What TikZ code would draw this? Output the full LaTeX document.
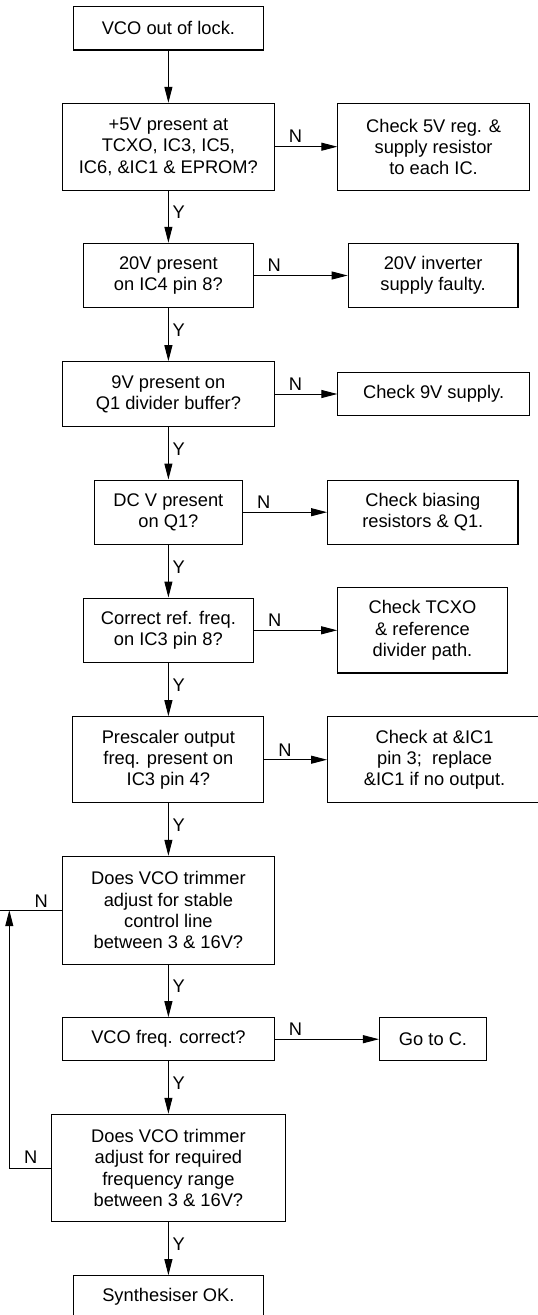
\documentclass[tikz,border=0pt]{standalone}
\usepackage{fontspec}
\setmainfont{Liberation Sans}
\usetikzlibrary{arrows.meta}
\tikzset{
  box/.style={draw=black, line width=1.1pt, align=center, inner sep=0pt,
    font=\fontsize{18.3}{21.2}\selectfont},
  arr/.style={draw=black, line width=1pt, -{Triangle[length=16pt,width=8pt]}},
  ln/.style={draw=black, line width=1pt},
  lab/.style={inner sep=0pt, font=\fontsize{18.3}{21.2}\selectfont},
  ylab/.style={lab, anchor=west},
  nlab/.style={lab, anchor=center}
}
\begin{document}
\begin{tikzpicture}[x=1pt,y=-1pt]
\useasboundingbox (0,0) rectangle (538,1315);
\clip (0,0) rectangle (538,1315);
\fill[white] (0,0) rectangle (538,1315);

% main column
\node[box, minimum width=190pt, minimum height=43.3pt] (b1) at (168.4,28.3) {VCO out of lock.};
\node[box, minimum width=212pt, minimum height=86.7pt] (b2) at (168.4,146.7) {+5V present at\\TCXO, IC3, IC5,\\IC6, \&IC1 \& EPROM?};
\node[box, minimum width=169.5pt, minimum height=64.4pt] (b3) at (168.4,275.5) {20V present\\on IC4 pin 8?};
\node[box, minimum width=212pt, minimum height=64.6pt] (b4) at (168.4,394) {9V present on\\Q1 divider buffer?};
\node[box, minimum width=148.6pt, minimum height=64.3pt] (b5) at (168.4,512.2) {DC V present\\on Q1?};
\node[box, minimum width=170.4pt, minimum height=64.5pt] (b6) at (168.4,630.3) {Correct ref. freq.\\on IC3 pin 8?};
\node[box, minimum width=191pt, minimum height=86pt] (b7) at (168.4,759.7) {Prescaler output\\freq. present on\\IC3 pin 4?};
\node[box, minimum width=212pt, minimum height=107.7pt] (b8) at (168.4,910.2) {Does VCO trimmer\\adjust for stable\\control line\\between 3 \& 16V?};
\node[box, minimum width=212pt, minimum height=43pt] (b9) at (168.4,1039.2) {VCO freq. correct?};
\node[box, minimum width=234pt, minimum height=107.4pt] (b10) at (168.4,1168) {Does VCO trimmer\\adjust for required\\frequency range\\between 3 \& 16V?};
\node[box, minimum width=190pt, minimum height=43pt] (b11) at (168.4,1297.2) {Synthesiser OK.};

% right column
\node[box, minimum width=191.4pt, minimum height=86.7pt] (r2) at (433.6,146.7) {Check 5V reg. \&\\supply resistor\\to each IC.};
\node[box, minimum width=169.8pt, minimum height=64.4pt] (r3) at (433.1,275.5) {20V inverter\\supply faulty.};
\node[box, minimum width=191.4pt, minimum height=43.4pt] (r4) at (433.6,394) {Check 9V supply.};
\node[box, minimum width=190.4pt, minimum height=64.3pt] (r5) at (422.8,512.2) {Check biasing\\resistors \& Q1.};
\node[box, minimum width=169.6pt, minimum height=85.3pt] (r6) at (422.5,630.3) {Check TCXO\\\& reference\\divider path.};
\node[box, minimum width=214pt, minimum height=86pt] (r7) at (434.6,759.7) {Check at \&IC1\\pin 3;~ replace\\\&IC1 if no output.};
\node[box, minimum width=107pt, minimum height=43pt] (r9) at (433,1039.2) {Go to C.};

% vertical connectors
\draw[arr] (b1.south) -- (b2.north);
\draw[arr] (b2.south) -- (b3.north);
\draw[arr] (b3.south) -- (b4.north);
\draw[arr] (b4.south) -- (b5.north);
\draw[arr] (b5.south) -- (b6.north);
\draw[arr] (b6.south) -- (b7.north);
\draw[arr] (b7.south) -- (b8.north);
\draw[arr] (b8.south) -- (b9.north);
\draw[arr] (b9.south) -- (b10.north);
\draw[arr] (b10.south) -- (b11.north);

% Y labels
\path (b2.south) ++(4,22) node[ylab] (y2) {Y};
\path (b3.south) ++(4,22) node[ylab] (y3) {Y};
\path (b4.south) ++(4,22) node[ylab] (y4) {Y};
\path (b5.south) ++(4,22) node[ylab] (y5) {Y};
\path (b6.south) ++(4,22) node[ylab] (y6) {Y};
\path (b7.south) ++(4,22) node[ylab] (y7) {Y};
\path (b8.south) ++(4,22) node[ylab] (y8) {Y};
\path (b9.south) ++(4,22) node[ylab] (y9) {Y};
\path (b10.south) ++(4,22) node[ylab] (y10) {Y};

% horizontal N connectors
\draw[arr] (b2.east) -- (r2.west);
\draw[arr] (b3.east) -- (r3.west);
\draw[arr] (b4.east) -- (r4.west);
\draw[arr] (b5.east) -- (r5.west);
\draw[arr] (b6.east) -- (r6.west);
\draw[arr] (b7.east) -- (r7.west);
\draw[arr] (b9.east) -- (r9.west);

\path (b2.east) ++(20.5,-10) node[nlab] (n2) {N};
\path (b3.east) ++(20.5,-10) node[nlab] (n3) {N};
\path (b4.east) ++(20.5,-10) node[nlab] (n4) {N};
\path (b5.east) ++(20.5,-10) node[nlab] (n5) {N};
\path (b6.east) ++(20.5,-10) node[nlab] (n6) {N};
\path (b7.east) ++(20.5,-10) node[nlab] (n7) {N};
\path (b9.east) ++(20.5,-10) node[nlab] (n9) {N};

% feedback loop
\coordinate (fbtop) at (9.3,910.2);
\coordinate (ledge) at (0,910.2);
\draw[ln] (b8.west) -- (ledge);
\draw[arr] (b10.west) -| (fbtop);
\path (b8.west) ++(-20.5,-9.5) node[nlab] (n8) {N};
\path (b10.west) ++(-20,-10.5) node[nlab] (n10) {N};
\end{tikzpicture}
\end{document}
